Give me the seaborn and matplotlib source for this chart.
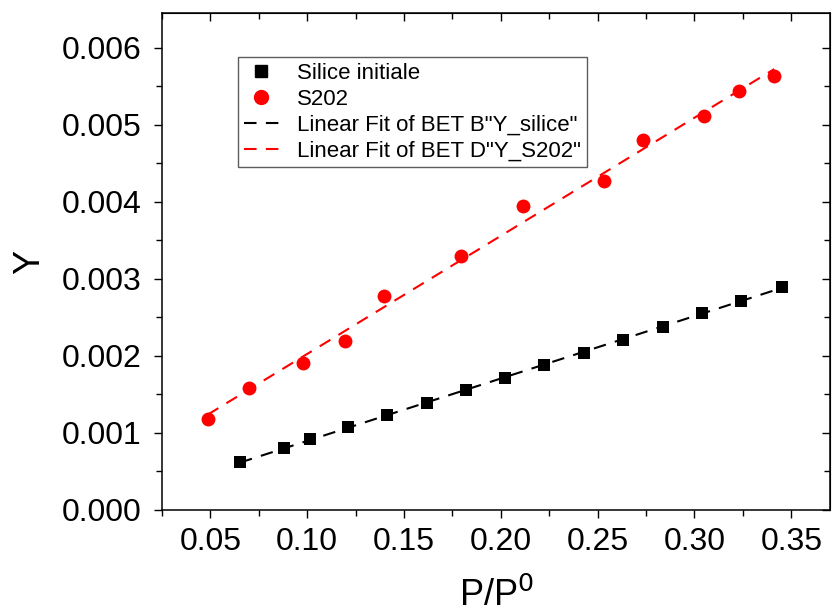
import numpy as np
import pandas as pd
import seaborn as sns
import matplotlib.pyplot as plt
from matplotlib.ticker import MultipleLocator, FormatStrFormatter

# values
x_silice = [0.0653, 0.0878, 0.1015, 0.1213, 0.1411, 0.1620, 0.1821, 0.2022,
            0.2222, 0.2428, 0.2630, 0.2837, 0.3038, 0.3241, 0.3450]
y_silice = [0.000619, 0.000801, 0.000918, 0.001074, 0.001234, 0.001394, 0.001555,
            0.001714, 0.001879, 0.002043, 0.002208, 0.002373, 0.002555, 0.002718, 0.002900]
x_s202 = [0.0486, 0.0701, 0.0979, 0.1196, 0.1397, 0.1792, 0.2115, 0.2532,
          0.2734, 0.3050, 0.3230, 0.3412]
y_s202 = [0.001178, 0.001580, 0.001905, 0.002199, 0.002783, 0.003299, 0.003948,
          0.004264, 0.004796, 0.005108, 0.005432, 0.005627]
labels = ['Silice initiale', 'S202',
          'Linear Fit of BET B"Y_silice"', 'Linear Fit of BET D"Y_S202"']

sns.set_style("ticks", {'axes.edgecolor': 'black', 'text.color': 'black',
                        'axes.labelcolor': 'black', 'xtick.color': 'black',
                        'ytick.color': 'black'})
plt.rcParams['font.family'] = ['Liberation Sans', 'DejaVu Sans']

df_a = pd.DataFrame({'x': x_silice, 'y': y_silice})
df_b = pd.DataFrame({'x': x_s202, 'y': y_s202})

# linear fits over each data range
pa = np.polyfit(df_a.x, df_a.y, 1)
pb = np.polyfit(df_b.x, df_b.y, 1)
fit_a = pd.DataFrame({'x': [df_a.x.min(), df_a.x.max()]})
fit_a['y'] = np.polyval(pa, fit_a.x)
fit_b = pd.DataFrame({'x': [df_b.x.min(), df_b.x.max()]})
fit_b['y'] = np.polyval(pb, fit_b.x)

dash = [6, 4.5]

fig = plt.figure(figsize=(8.32, 6.16), dpi=100)
ax = fig.add_axes([0.1947, 0.1721, 0.8029, 0.8068])

sns.lineplot(data=fit_a, x='x', y='y', ax=ax, color='black', lw=1.5, zorder=1)
sns.lineplot(data=fit_b, x='x', y='y', ax=ax, color='red', lw=1.5, zorder=1)
for ln in ax.lines:
    ln.set_dashes(dash)
sns.scatterplot(data=df_a, x='x', y='y', ax=ax, marker='s', s=75, color='black',
                edgecolor='black', linewidth=0, zorder=3)
sns.scatterplot(data=df_b, x='x', y='y', ax=ax, marker='o', s=100, color='red',
                edgecolor='red', linewidth=0, zorder=3)

ax.set_xlim(0.025, 0.37)
ax.set_ylim(0, 0.00645)
ax.xaxis.set_major_locator(MultipleLocator(0.05))
ax.xaxis.set_minor_locator(MultipleLocator(0.025))
ax.yaxis.set_major_locator(MultipleLocator(0.001))
ax.yaxis.set_minor_locator(MultipleLocator(0.0005))
ax.xaxis.set_major_formatter(FormatStrFormatter('%.2f'))
ax.yaxis.set_major_formatter(FormatStrFormatter('%.3f'))
ax.tick_params(which='major', direction='out', length=6, width=1, labelsize=23)
ax.tick_params(axis='y', which='major', pad=9)
ax.tick_params(axis='x', which='major', pad=6)
ax.tick_params(which='minor', direction='out', length=4, width=1)
for s in ax.spines.values():
    s.set_visible(True)
    s.set_linewidth(1.1)
    s.set_color('black')

# inward ticks on top and right
top = ax.secondary_xaxis('top')
top.xaxis.set_major_locator(MultipleLocator(0.05))
top.xaxis.set_minor_locator(MultipleLocator(0.025))
top.tick_params(which='both', direction='in', length=6, width=1, labeltop=False)
top.tick_params(which='minor', length=4)
right = ax.secondary_yaxis('right')
right.yaxis.set_major_locator(MultipleLocator(0.001))
right.yaxis.set_minor_locator(MultipleLocator(0.0005))
right.tick_params(which='both', direction='in', length=6, width=1, labelright=False)
right.tick_params(which='minor', length=4)

ax.set_xlabel('P/P$^0$', fontsize=26, labelpad=15)
ax.set_ylabel('Y', fontsize=26, labelpad=10)

handles = [
    plt.Line2D([], [], ls='none', marker='s', ms=8, color='black'),
    plt.Line2D([], [], ls='none', marker='o', ms=10, color='red'),
    plt.Line2D([], [], color='black', lw=1.5, dashes=dash),
    plt.Line2D([], [], color='red', lw=1.5, dashes=dash),
]
leg = ax.legend(handles, labels, loc='upper left', bbox_to_anchor=(0.114, 0.911),
                borderaxespad=0, fontsize=16, frameon=True, fancybox=False,
                edgecolor='#333333', handlelength=1.6, handletextpad=0.8,
                labelspacing=0.22, borderpad=0.25)
leg.get_frame().set_linewidth(1.0)

fig.savefig('out.png', dpi=100)
